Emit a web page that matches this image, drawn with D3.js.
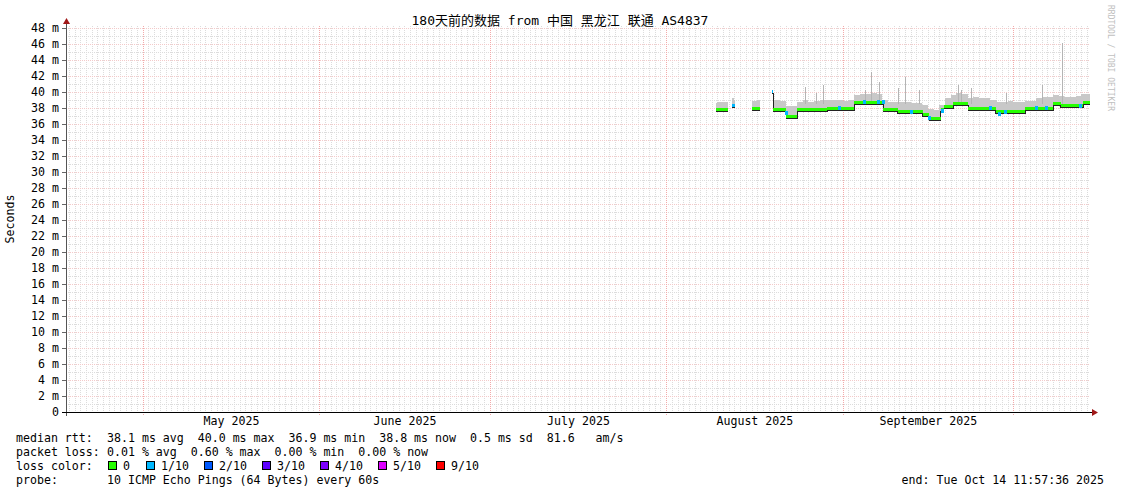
<!DOCTYPE html>
<html>
<head>
<meta charset="utf-8">
<script src="https://cdn.jsdelivr.net/npm/d3@7"></script>
<style>
  body { margin: 0; background: #fff; }
  svg text { font-family: "DejaVu Sans Mono", "Noto Sans CJK SC", monospace; fill: #000; }
</style>
</head>
<body>
<div id="chart"></div>
<script>
// median rtt segments (start, end, median ms, loss level index)
const segStart = ["2025-08-09 18:00","2025-08-12 14:00","2025-08-16 02:00","2025-08-19 14:00","2025-08-19 20:00","2025-08-22 02:00","2025-08-24 00:00","2025-08-29 08:00","2025-09-03 02:00","2025-09-08 04:00","2025-09-10 16:00","2025-09-15 02:00","2025-09-16 05:00","2025-09-18 06:00","2025-09-18 20:00","2025-09-20 10:00","2025-09-23 02:00","2025-09-27 22:00","2025-10-03 02:00","2025-10-08 00:00","2025-10-09 08:00","2025-10-13 08:00"];
const segEnd   = ["2025-08-11 20:00","2025-08-13 04:00","2025-08-17 12:00","2025-08-19 20:00","2025-08-22 02:00","2025-08-24 00:00","2025-08-29 08:00","2025-09-03 02:00","2025-09-08 04:00","2025-09-10 16:00","2025-09-15 02:00","2025-09-16 05:00","2025-09-18 06:00","2025-09-18 20:00","2025-09-20 10:00","2025-09-23 02:00","2025-09-27 22:00","2025-10-03 02:00","2025-10-08 00:00","2025-10-09 08:00","2025-10-13 08:00","2025-10-14 11:00"];
const segMedian = [37.8, 38.3, 38.0, 40.1, 37.8, 37.0, 37.8, 37.95, 38.75, 37.8, 37.55, 37.15, 36.75, 37.8, 38.25, 38.55, 38.0, 37.55, 37.95, 38.6, 38.3, 38.75];
const segLoss = [0, 1, 0, 1, 0, 0, 0, 0, 0, 0, 0, 0, 0, 0, 0, 0, 0, 0, 0, 0, 0, 0];

// smoke (daily upper edge, ms)
const smokeDays = ["2025-08-09","2025-08-10","2025-08-11","2025-08-12","2025-08-13","2025-08-16","2025-08-17","2025-08-19","2025-08-20","2025-08-21","2025-08-22","2025-08-23","2025-08-24","2025-08-25","2025-08-26","2025-08-27","2025-08-28","2025-08-29","2025-08-30","2025-08-31","2025-09-01","2025-09-02","2025-09-03","2025-09-04","2025-09-05","2025-09-06","2025-09-07","2025-09-08","2025-09-09","2025-09-10","2025-09-11","2025-09-12","2025-09-13","2025-09-14","2025-09-15","2025-09-16","2025-09-17","2025-09-18","2025-09-19","2025-09-20","2025-09-21","2025-09-22","2025-09-23","2025-09-24","2025-09-25","2025-09-26","2025-09-27","2025-09-28","2025-09-29","2025-09-30","2025-10-01","2025-10-02","2025-10-03","2025-10-04","2025-10-05","2025-10-06","2025-10-07","2025-10-08","2025-10-09","2025-10-10","2025-10-11","2025-10-12","2025-10-13","2025-10-14"];
const smokeHigh = [38.6, 38.7, 38.8, 39.2, 39.0, 38.9, 39.0, 39.0, 39.0, 38.9, 38.3, 38.2, 38.8, 39.0, 38.8, 38.9, 39.0, 39.0, 39.0, 39.0, 38.9, 39.0, 39.6, 39.8, 39.8, 39.9, 39.7, 39.0, 38.8, 38.8, 38.7, 38.7, 38.6, 38.6, 38.4, 37.9, 37.7, 38.4, 39.3, 39.6, 39.9, 39.7, 39.3, 39.4, 39.2, 39.3, 39.0, 38.8, 38.8, 38.9, 38.8, 38.8, 38.9, 38.9, 39.3, 39.4, 39.4, 39.6, 39.5, 39.4, 39.4, 39.5, 39.7, 39.8];

// single-sample spikes of the smoke
const spikeTimes = ["2025-08-25 10:00","2025-08-27 06:00","2025-08-28 14:00","2025-09-05 00:00","2025-09-06 02:00","2025-09-07 08:00","2025-09-10 18:00","2025-09-11 22:00","2025-09-14 12:00","2025-09-21 06:00","2025-09-21 18:00","2025-09-23 12:00","2025-09-29 18:00","2025-10-06 00:00","2025-10-09 12:00"];
const spikeHigh = [40.6, 39.9, 40.9, 40.3, 42.5, 41.3, 40.5, 41.9, 40.2, 40.9, 40.3, 40.5, 39.9, 40.9, 46.1];

// short packet-loss events on the median
const lossTimes = ["2025-08-22 02:00","2025-08-31 08:00","2025-09-04 20:00","2025-09-07 04:00","2025-09-08 04:00","2025-09-13 00:00","2025-09-16 06:00","2025-09-18 12:00","2025-09-26 22:00","2025-09-28 12:00","2025-09-29 12:00","2025-10-05 00:00","2025-10-06 18:00","2025-10-12 18:00"];
const lossValue = [37.4, 37.95, 38.75, 38.75, 38.7, 37.55, 36.8, 37.6, 38.0, 37.3, 37.5, 37.95, 37.95, 38.3];
const lossLevel = [1, 1, 1, 1, 1, 1, 1, 1, 1, 1, 1, 1, 1, 1];

const lossColors = ["#26ff00", "#00b8ff", "#0059ff", "#5e00ff", "#7e00ff", "#dd00ff", "#ff0000"];
const lossLabels = ["0", "1/10", "2/10", "3/10", "4/10", "5/10", "9/10"];

const yTicks = d3.range(0, 49, 2);
const startTime = new Date(2025, 3, 17, 11, 57, 36);
const endTime = new Date(2025, 9, 14, 11, 57, 36);

const width = 1121, height = 494;
const plotLeft = 66, plotRight = 1090, plotTop = 26, plotBottom = 412;

const parse = d3.timeParse("%Y-%m-%d %H:%M");
const parseDay = d3.timeParse("%Y-%m-%d");

const svg = d3.select("#chart").append("svg")
  .attr("width", width)
  .attr("height", height);

const x = d3.scaleTime().domain([startTime, endTime]).range([plotLeft, plotRight]);
const y = d3.scaleLinear().domain([0, 48]).range([plotBottom, 28]);

// grid: minor
const grid = svg.append("g").attr("shape-rendering", "crispEdges");
grid.selectAll(".vmin")
  .data(d3.timeDay.range(startTime, endTime))
  .enter().append("line")
  .attr("x1", d => Math.round(x(d)) + 0.5).attr("x2", d => Math.round(x(d)) + 0.5)
  .attr("y1", plotTop).attr("y2", plotBottom)
  .attr("stroke", "#dcdcdc").attr("stroke-dasharray", "1,1");
grid.selectAll(".hmin")
  .data(d3.range(1, 49, 2))
  .enter().append("line")
  .attr("x1", plotLeft).attr("x2", plotRight)
  .attr("y1", d => Math.round(y(d)) + 0.5).attr("y2", d => Math.round(y(d)) + 0.5)
  .attr("stroke", "#dcdcdc").attr("stroke-dasharray", "1,1");
// grid: major
grid.selectAll(".hmaj")
  .data(yTicks.slice(1))
  .enter().append("line")
  .attr("x1", plotLeft).attr("x2", plotRight)
  .attr("y1", d => Math.round(y(d)) + 0.5).attr("y2", d => Math.round(y(d)) + 0.5)
  .attr("stroke", "#f4caca").attr("stroke-dasharray", "1,1");
grid.selectAll(".vmaj")
  .data(d3.timeMonth.range(startTime, endTime))
  .enter().append("line")
  .attr("x1", d => Math.round(x(d)) + 0.5).attr("x2", d => Math.round(x(d)) + 0.5)
  .attr("y1", plotTop).attr("y2", plotBottom + 3)
  .attr("stroke", "#f2aaaa").attr("stroke-dasharray", "1,1");

// smoke
const segs = segStart.map((s, i) => ({ s: parse(s), e: parse(segEnd[i]), v: segMedian[i], loss: segLoss[i] }));
const plot = svg.append("g").attr("shape-rendering", "crispEdges");
smokeDays.forEach((dStr, i) => {
  const d0 = parseDay(dStr), d1 = d3.timeDay.offset(d0, 1);
  segs.forEach(sg => {
    const a = Math.max(+d0, +sg.s), b = Math.min(+d1, +sg.e);
    if (b <= a) return;
    plot.append("rect")
      .attr("x", x(a)).attr("width", Math.max(1, x(b) - x(a)))
      .attr("y", y(smokeHigh[i])).attr("height", Math.max(0, y(sg.v) - y(smokeHigh[i])))
      .attr("fill", "#c8c8c8");
  });
});
plot.selectAll(".spike")
  .data(spikeTimes)
  .enter().append("line")
  .attr("x1", d => Math.round(x(parse(d))) + 0.5).attr("x2", d => Math.round(x(parse(d))) + 0.5)
  .attr("y1", (d, i) => y(spikeHigh[i])).attr("y2", y(38.5))
  .attr("stroke", "#b4b4b4").attr("stroke-width", 1);

// dark stepped line under the median
const runs = [];
let cur = [];
segs.forEach(d => {
  if (cur.length && +cur[cur.length - 1].e !== +d.s) { runs.push(cur); cur = []; }
  cur.push(d);
});
runs.push(cur);
const stepLine = d3.line().x(p => x(p[0])).y(p => y(p[1]) + 2).curve(d3.curveStepAfter);
runs.forEach(r => {
  const pts = r.map(d => [d.s, d.v]);
  pts.push([r[r.length - 1].e, r[r.length - 1].v]);
  plot.append("path")
    .attr("d", stepLine(pts))
    .attr("fill", "none").attr("stroke", "#222").attr("stroke-width", 1);
});

// median line in loss colour
plot.selectAll(".med")
  .data(segs)
  .enter().append("rect")
  .attr("x", d => x(d.s)).attr("width", d => x(d.e) - x(d.s))
  .attr("y", d => y(d.v) - 1.5).attr("height", 3)
  .attr("fill", d => lossColors[d.loss]);
plot.selectAll(".loss")
  .data(lossTimes)
  .enter().append("rect")
  .attr("x", d => x(parse(d)) - 1).attr("width", 3)
  .attr("y", (d, i) => y(lossValue[i]) - 2).attr("height", 4)
  .attr("fill", (d, i) => lossColors[lossLevel[i]]);

// y axis
const yAxis = svg.append("g")
  .attr("transform", `translate(${plotLeft},0)`)
  .call(d3.axisLeft(y).tickValues(yTicks).tickSize(4).tickPadding(3)
    .tickFormat(d => d === 0 ? "0" : d + " m"));
yAxis.select(".domain").remove();
yAxis.selectAll(".tick line").attr("stroke", "#666");
yAxis.selectAll("text").style("font-size", "11.6px");
svg.append("line").attr("x1", plotLeft + 0.5).attr("x2", plotLeft + 0.5).attr("y1", plotBottom + 4).attr("y2", 22)
  .attr("stroke", "#555");
svg.append("path").attr("d", `M${plotLeft - 3},24 L${plotLeft + 4},24 L${plotLeft + 0.5},18 Z`).attr("fill", "#a01818");

// x axis
const mids = d3.timeMonth.range(d3.timeMonth.ceil(startTime), d3.timeMonth.floor(endTime))
  .map(m => new Date((+m + +d3.timeMonth.offset(m, 1)) / 2));
const xAxis = svg.append("g")
  .attr("transform", `translate(0,${plotBottom})`)
  .call(d3.axisBottom(x).tickValues(mids).tickSize(0).tickPadding(5)
    .tickFormat(d3.timeFormat("%B %Y")));
xAxis.select(".domain").remove();
xAxis.selectAll("text").style("font-size", "11.6px");
svg.append("line").attr("x1", plotLeft - 4).attr("x2", 1093).attr("y1", plotBottom + 0.5).attr("y2", plotBottom + 0.5)
  .attr("stroke", "#000");
svg.append("path").attr("d", `M1092,${plotBottom - 3} L1098,${plotBottom + 0.5} L1092,${plotBottom + 4} Z`).attr("fill", "#a01818");

// titles
svg.append("text").attr("x", 560).attr("y", 25).attr("text-anchor", "middle")
  .style("font-size", "13px").text("180天前的数据 from 中国 黑龙江 联通 AS4837");
svg.append("text").attr("transform", "translate(14,219) rotate(-90)").attr("text-anchor", "middle")
  .style("font-size", "11.6px").text("Seconds");
svg.append("text").attr("transform", "translate(1108,5) rotate(90)")
  .style("font-size", "8px").style("fill", "#c0c0c0").text("RRDTOOL / TOBI OETIKER");

// legend
const legendRows = [
  ["median rtt:", "38.1 ms avg  40.0 ms max  36.9 ms min  38.8 ms now  0.5 ms sd  81.6   am/s"],
  ["packet loss:", "0.01 % avg  0.60 % max  0.00 % min  0.00 % now"],
  ["loss color:", ""],
  ["probe:", "10 ICMP Echo Pings (64 Bytes) every 60s"]
];
legendRows.forEach((r, i) => {
  const yy = 441.5 + i * 14;
  svg.append("text").attr("x", 16).attr("y", yy).attr("xml:space", "preserve").style("font-size", "11.6px").text(r[0]);
  svg.append("text").attr("x", 107).attr("y", yy).attr("xml:space", "preserve").style("font-size", "11.6px").text(r[1]);
});
const boxX = lossColors.map((c, i) => i === 0 ? 108 : 146 + (i - 1) * 58);
lossColors.forEach((c, i) => {
  svg.append("rect").attr("x", boxX[i] + 0.5).attr("y", 461.5).attr("width", 8).attr("height", 8)
    .attr("fill", c).attr("stroke", "#000");
  svg.append("text").attr("x", boxX[i] + 15).attr("y", 469.5).style("font-size", "11.6px").text(lossLabels[i]);
});
svg.append("text").attr("x", 1104).attr("y", 483.5).attr("text-anchor", "end")
  .style("font-size", "11.6px").text("end: Tue Oct 14 11:57:36 2025");
</script>
</body>
</html>
